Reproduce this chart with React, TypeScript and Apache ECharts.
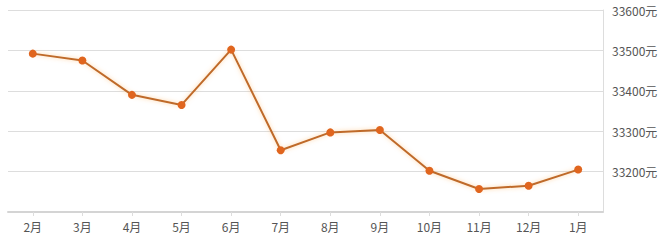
import React, { useEffect, useRef } from "react";
import * as echarts from "echarts";

const months = ["2月", "3月", "4月", "5月", "6月", "7月", "8月", "9月", "10月", "11月", "12月", "1月"];
const prices = [33492, 33475, 33390, 33365, 33502, 33253, 33297, 33303, 33202, 33157, 33165, 33205];
const yMin = 33100;
const yMax = 33600;
const yStep = 100;
const unit = "元";

export default function App() {
  const ref = useRef<HTMLDivElement>(null);
  useEffect(() => {
    document.body.style.margin = "0";
    const chart = echarts.init(ref.current!, null, { renderer: "svg" });
    chart.setOption({
      animation: false,
      backgroundColor: "#ffffff",
      grid: { left: 8, right: 65, top: 10, bottom: 28 },
      xAxis: {
        type: "category",
        data: months,
        boundaryGap: true,
        axisLine: { lineStyle: { color: "#d4d4d4", width: 2 } },
        axisTick: { show: true, alignWithLabel: true, length: 4, lineStyle: { color: "#dddddd" } },
        axisLabel: {
          color: "#555555",
          fontSize: 12,
          margin: 8,
          fontFamily: "'Noto Sans CJK SC', 'Noto Sans', sans-serif",
        },
      },
      yAxis: {
        type: "value",
        position: "right",
        min: yMin,
        max: yMax,
        interval: yStep,
        axisLine: { show: true, lineStyle: { color: "#dddddd" } },
        axisTick: { show: false },
        splitLine: { lineStyle: { color: "#dddddd" } },
        axisLabel: {
          showMinLabel: false,
          color: "#555555",
          fontSize: 12,
          margin: 9,
          fontFamily: "'Noto Sans CJK SC', 'Noto Sans', sans-serif",
          formatter: (v: number) => (v === yMin ? "" : v + unit),
        },
      },
      series: [
        {
          type: "line",
          data: prices,
          symbol: "circle",
          symbolSize: 8,
          itemStyle: { color: "#e0651e" },
          lineStyle: {
            color: "#bf6a2a",
            width: 2,
            shadowColor: "rgba(255,170,80,0.55)",
            shadowBlur: 4,
          },
        },
      ],
    });
    return () => chart.dispose();
  }, []);
  return <div ref={ref} style={{ position: "fixed", left: 0, top: 0, width: 668, height: 240 }} />;
}
